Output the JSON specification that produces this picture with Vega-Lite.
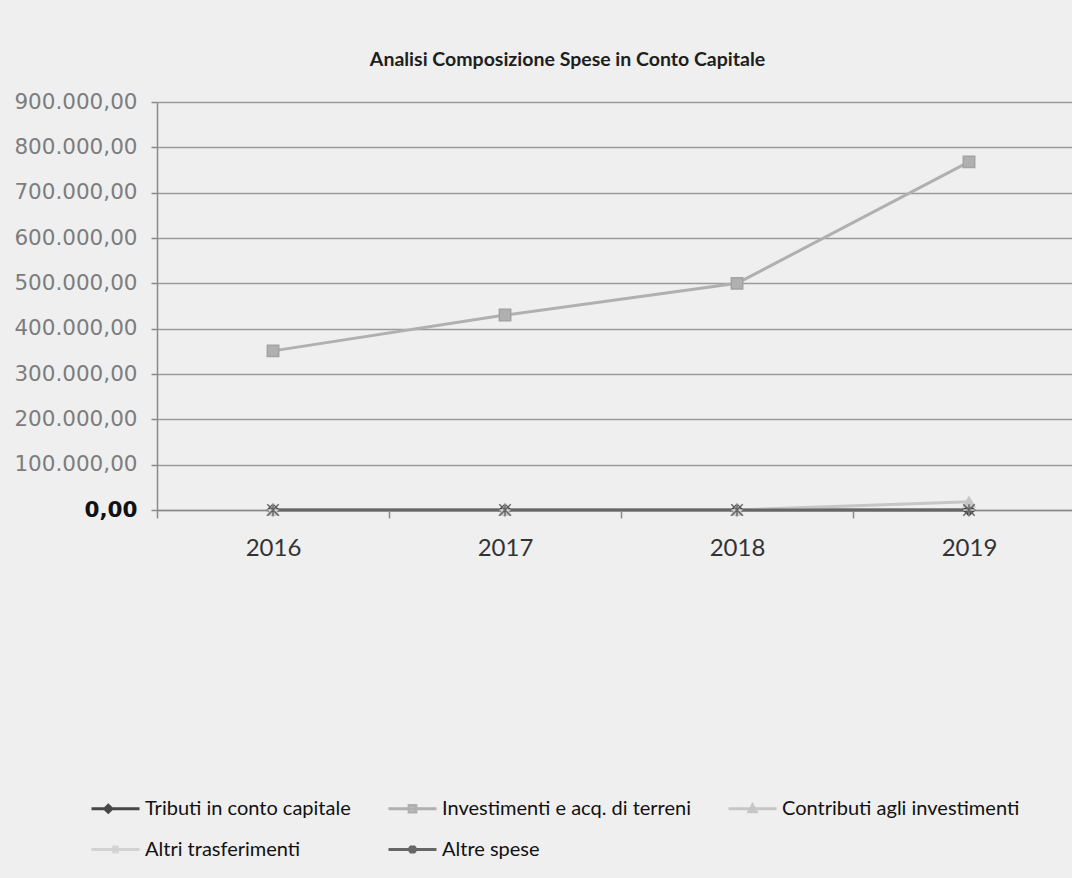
{
  "$schema": "https://vega.github.io/schema/vega-lite/v6.json",
  "width": 911,
  "height": 408,
  "autosize": "none",
  "padding": {"left": 157, "top": 102, "right": 4, "bottom": 368},
  "background": "#efefef",
  "title": {
    "text": "Analisi Composizione Spese in Conto Capitale",
    "font": "Lato",
    "fontSize": 19.5,
    "fontWeight": "bold",
    "color": "#1e1e1e",
    "anchor": "middle",
    "frame": "group",
    "dx": -45,
    "offset": 21
  },
  "config": {
    "view": {"stroke": null},
    "font": "Lato"
  },
  "data": {
    "values": [
      {"anno": "2016", "serie": "Tributi in conto capitale", "valore": 0},
      {"anno": "2017", "serie": "Tributi in conto capitale", "valore": 0},
      {"anno": "2018", "serie": "Tributi in conto capitale", "valore": 0},
      {"anno": "2019", "serie": "Tributi in conto capitale", "valore": 0},
      {"anno": "2016", "serie": "Investimenti e acq. di terreni", "valore": 351000},
      {"anno": "2017", "serie": "Investimenti e acq. di terreni", "valore": 430000},
      {"anno": "2018", "serie": "Investimenti e acq. di terreni", "valore": 500000},
      {"anno": "2019", "serie": "Investimenti e acq. di terreni", "valore": 768000},
      {"anno": "2016", "serie": "Contributi agli investimenti", "valore": 0},
      {"anno": "2017", "serie": "Contributi agli investimenti", "valore": 0},
      {"anno": "2018", "serie": "Contributi agli investimenti", "valore": 0},
      {"anno": "2019", "serie": "Contributi agli investimenti", "valore": 18000},
      {"anno": "2016", "serie": "Altri trasferimenti", "valore": 0},
      {"anno": "2017", "serie": "Altri trasferimenti", "valore": 0},
      {"anno": "2018", "serie": "Altri trasferimenti", "valore": 0},
      {"anno": "2019", "serie": "Altri trasferimenti", "valore": 0},
      {"anno": "2016", "serie": "Altre spese", "valore": 0},
      {"anno": "2017", "serie": "Altre spese", "valore": 0},
      {"anno": "2018", "serie": "Altre spese", "valore": 0},
      {"anno": "2019", "serie": "Altre spese", "valore": 0}
    ]
  },
  "encoding": {
    "x": {
      "field": "anno",
      "type": "ordinal",
      "scale": {"range": [0, 928], "paddingInner": 0, "paddingOuter": 0},
      "axis": {
        "title": null,
        "labelAngle": 0,
        "labelFont": "Lato",
        "labelFontSize": 24,
        "labelColor": "#333333",
        "labelPadding": 18,
        "domainColor": "#8a8a8a",
        "domainWidth": 1.5,
        "tickColor": "#8a8a8a",
        "tickWidth": 1.5,
        "tickSize": 8,
        "tickBand": "extent",
        "grid": false
      }
    },
    "y": {
      "field": "valore",
      "type": "quantitative",
      "scale": {"domain": [0, 900000], "nice": false},
      "axis": {
        "title": null,
        "values": [0, 100000, 200000, 300000, 400000, 500000, 600000, 700000, 800000, 900000],
        "labelExpr": "replace(replace(replace(format(datum.value, ',.2f'), ',', '#'), '.', ','), '#', '.')",
        "labelFont": "DejaVu Sans",
        "labelFontSize": 21.5,
        "labelColor": {"condition": {"test": "datum.value === 0", "value": "#111111"}, "value": "#7d7d7d"},
        "labelFontWeight": {"condition": {"test": "datum.value === 0", "value": "bold"}, "value": "normal"},
        "labelPadding": 14,
        "tickSize": 6,
        "tickColor": "#8a8a8a",
        "tickWidth": 1.5,
        "domainColor": "#8a8a8a",
        "domainWidth": 1.5,
        "grid": true,
        "gridColor": "#9a9a9a",
        "gridWidth": 1.5
      }
    }
  },
  "resolve": {"legend": {"color": "independent", "shape": "independent", "stroke": "independent"}},
  "layer": [
    {
      "mark": {"type": "line", "strokeWidth": 3},
      "encoding": {
        "color": {
          "field": "serie",
          "type": "nominal",
          "scale": {
            "domain": ["Tributi in conto capitale", "Investimenti e acq. di terreni", "Contributi agli investimenti", "Altri trasferimenti", "Altre spese"],
            "range": ["#474747", "#b0b0b0", "#c6c6c6", "#d2d2d2", "#666666"]
          },
          "legend": {
            "orient": "none",
            "legendX": -67,
            "legendY": 681,
            "columns": 3,
            "direction": "horizontal",
            "title": null,
            "labelFont": "Lato",
            "labelFontSize": 20,
            "labelColor": "#111111",
            "labelLimit": 400,
            "labelOffset": 4,
            "columnPadding": 31,
            "rowPadding": 5,
            "symbolSize": 2304,
            "symbolStrokeWidth": 3,
            "symbolType": "stroke",
            "encode": {
              "symbols": {
                "update": {
                  "shape": {"signal": "datum.value === 'Tributi in conto capitale' ? 'M-1,0H1M-0.45,0L-0.3,-0.14L-0.15,0L-0.3,0.14Z' : datum.value === 'Investimenti e acq. di terreni' ? 'M-1,0H1M-0.14,-0.14H0.14V0.14H-0.14Z' : datum.value === 'Contributi agli investimenti' ? 'M-1,0H1M-0.15,0.13L0,-0.15L0.15,0.13Z' : datum.value === 'Altri trasferimenti' ? 'M-1,0H1M-0.07,-0.17V0.17M0.07,-0.17V0.17' : 'M-1,0H1M-0.13,-0.13L0.13,0.13M-0.13,0.13L0.13,-0.13M0,-0.17V0.17'"}
                }
              }
            }
          }
        }
      }
    },
    {
      "mark": {"type": "point", "filled": true, "size": 130, "strokeWidth": 1.5, "opacity": 1},
      "encoding": {
        "color": {"field": "serie", "type": "nominal", "legend": null},
        "stroke": {
          "field": "serie",
          "type": "nominal",
          "scale": {
            "domain": ["Tributi in conto capitale", "Investimenti e acq. di terreni", "Contributi agli investimenti", "Altri trasferimenti", "Altre spese"],
            "range": ["#474747", "#a3a3a3", "#c6c6c6", "#d2d2d2", "#666666"]
          },
          "legend": null
        },
        "shape": {
          "field": "serie",
          "type": "nominal",
          "scale": {
            "domain": ["Tributi in conto capitale", "Investimenti e acq. di terreni", "Contributi agli investimenti", "Altri trasferimenti", "Altre spese"],
            "range": ["diamond", "square", "triangle-up", "M-1,0H1M0,-1V1", "M-1,-1L1,1M-1,1L1,-1M0,-1V1"]
          },
          "legend": null
        }
      }
    }
  ]
}
